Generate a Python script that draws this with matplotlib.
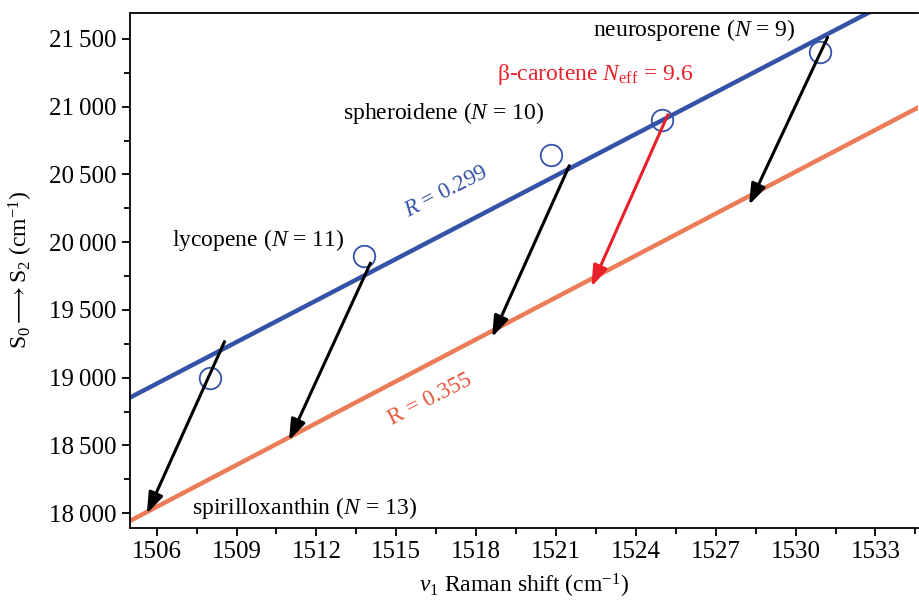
import matplotlib
matplotlib.use('Agg')
import matplotlib.pyplot as plt
from matplotlib.ticker import MultipleLocator, FuncFormatter

plt.rcParams['font.family'] = ['Liberation Serif', 'DejaVu Serif']
plt.rcParams['mathtext.fontset'] = 'custom'
plt.rcParams['mathtext.rm'] = 'Liberation Serif'
plt.rcParams['mathtext.it'] = 'Liberation Serif:italic'

# measured points (v1 Raman shift, S0->S2 energy)
raman = [1508.0, 1513.8, 1520.8, 1525.0, 1530.9]
energy = [19000, 19900, 20645, 20900, 21400]

# fitted lines (two end points each)
fit_x = [1505, 1535]
blue_fit = [18853, 21925]
orange_fit = [17943, 21035]

# shift arrows: start -> end
arr_x0 = [1508.55, 1514.03, 1521.5, 1531.2]
arr_y0 = [19266, 19845, 20565, 21511]
arr_x1 = [1505.63, 1510.97, 1518.6, 1528.25]
arr_y1 = [17995, 18536, 19299, 20275]
red_x0, red_y0 = 1525.2, 20940
red_x1, red_y1 = 1522.33, 19672

blue = '#3352a8'
orange = '#ec7c58'
head = '-|>,head_length=0.9,head_width=0.32'

fig = plt.figure(figsize=(9.19, 6.04), dpi=100)
ax = fig.add_axes([0.1415, 0.1258, 0.8575, 0.8535])

ax.plot(fit_x, blue_fit, color=blue, lw=3.2, zorder=2)
ax.plot(fit_x, orange_fit, color=orange, lw=3.2, zorder=2)
ax.plot(raman, energy, 'o', ms=15.5, mfc='none', mec=blue, mew=1.3, zorder=3)

for x0, y0, x1, y1 in zip(arr_x0, arr_y0, arr_x1, arr_y1):
    ax.annotate('', xy=(x1, y1), xytext=(x0, y0),
                arrowprops=dict(arrowstyle=head, color='black', lw=2.2,
                                mutation_scale=14, shrinkA=0, shrinkB=0), zorder=4)
ax.annotate('', xy=(red_x1, red_y1), xytext=(red_x0, red_y0),
            arrowprops=dict(arrowstyle=head, color='#e8202a', lw=2.2,
                            mutation_scale=14, shrinkA=0, shrinkB=0), zorder=4)

fs = 17
ax.text(1526.19, 21568, 'neurosporene ($N$ = 9)', ha='center', va='center', fontsize=fs)
ax.text(1522.47, 21235, r'β-carotene $N_{\rm eff}$ = 9.6', ha='center', va='center',
        fontsize=fs, color='#e8202a')
ax.text(1516.77, 20955, 'spheroidene ($N$ = 10)', ha='center', va='center', fontsize=fs)
ax.text(1509.8, 20017, 'lycopene ($N$ = 11)', ha='center', va='center', fontsize=fs)
ax.text(1511.56, 18039, 'spirilloxanthin ($N$ = 13)', ha='center', va='center', fontsize=fs)
ax.text(1516.89, 20372, '$R$ = 0.299', ha='center', va='center', fontsize=16.5,
        color=blue, rotation=27)
ax.text(1516.25, 18836, 'R = 0.355', ha='center', va='center', fontsize=16.5,
        color='#e8553a', rotation=27)

ax.set_xlim(1505, 1534.6)
ax.set_ylim(17890, 21695)
ax.xaxis.set_major_locator(MultipleLocator(3))
ax.xaxis.set_minor_locator(MultipleLocator(1.5))
ax.yaxis.set_major_locator(MultipleLocator(500))
ax.yaxis.set_minor_locator(MultipleLocator(250))
ax.yaxis.set_major_formatter(FuncFormatter(lambda v, p: f'{int(v)//1000}\u2009{int(v)%1000:03d}'))
ax.tick_params(which='both', direction='out', width=1.3, labelsize=18)
ax.tick_params(which='major', length=6)
ax.tick_params(which='minor', length=4)
ax.spines['right'].set_visible(False)
for s in ['left', 'bottom', 'top']:
    ax.spines[s].set_linewidth(1.3)

ax.set_xlabel(r'$\nu_1$ Raman shift (cm$^{-1}$)', fontsize=17, labelpad=6)
ax.set_ylabel(r'S$_0$$\longrightarrow$S$_2$ (cm$^{-1}$)', fontsize=17, labelpad=10)

fig.savefig('out.png', dpi=100)
